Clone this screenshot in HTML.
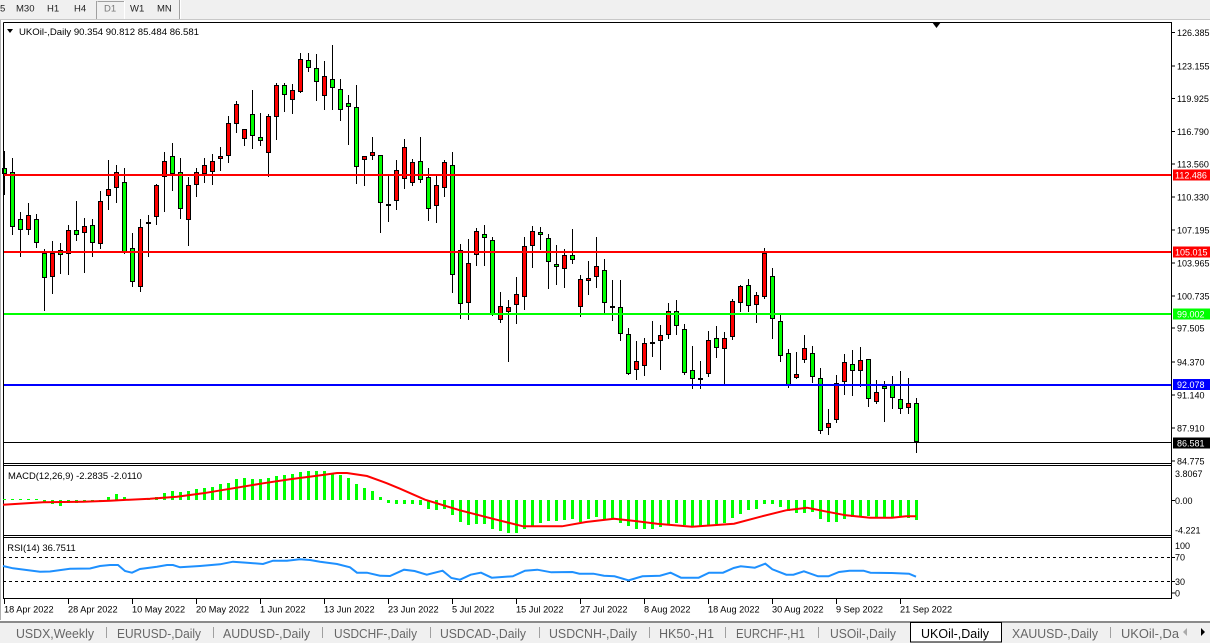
<!DOCTYPE html>
<html><head><meta charset="utf-8"><style>
html,body{margin:0;padding:0;background:#fff;width:1210px;height:643px;overflow:hidden}
svg{display:block;font-family:"Liberation Sans",Arial,sans-serif}
</style></head><body>
<svg width="1210" height="643" viewBox="0 0 1210 643" xmlns="http://www.w3.org/2000/svg">
<rect x="0" y="0" width="1210" height="643" fill="#fff"/>
<!-- toolbar -->
<rect x="0" y="0" width="1210" height="19" fill="#f0f0f0"/>
<line x1="0" y1="19.5" x2="1210" y2="19.5" stroke="#c8c8c8"/>
<line x1="96.5" y1="1" x2="96.5" y2="19" stroke="#a0a0a0"/>
<line x1="97.5" y1="1.5" x2="124" y2="1.5" stroke="#a0a0a0"/>
<line x1="124.5" y1="1" x2="124.5" y2="19" stroke="#ffffff"/>
<line x1="179.5" y1="0" x2="179.5" y2="19" stroke="#a0a0a0"/>
<line x1="180.5" y1="0" x2="180.5" y2="19" stroke="#ffffff"/>
<g font-size="9.5" fill="#222">
<text x="0" y="11.5">5</text>
<text x="16" y="11.5">M30</text>
<text x="47" y="11.5">H1</text>
<text x="74" y="11.5">H4</text>
<text x="104" y="11.5" fill="#777">D1</text>
<text x="130" y="11.5">W1</text>
<text x="157" y="11.5">MN</text>
</g>
<line x1="0.5" y1="20" x2="0.5" y2="620" stroke="#b0b0b0"/>

<!-- candles wicks -->
<path fill="none" stroke="#000" stroke-width="1" d="M4.5 151V195M12.5 158V235M20.5 212V257M28.5 203V235M36.5 214V248M44.5 249V311M52.5 241V294M60.5 243V274M68.5 225V275M76.5 201V241M84.5 218V273M92.5 219V257M100.5 191V249M108.5 160V210M116.5 165V203M124.5 168V254M132.5 233V287M140.5 219V292M148.5 215V257M156.5 184V225M164.5 152V212M172.5 143V191M180.5 158V219M188.5 177V246M196.5 168V197M204.5 158V183M212.5 154V185M220.5 147V171M228.5 116V163M236.5 101V133M244.5 129V146M252.5 90V149M260.5 113V146M268.5 114V177M276.5 83V140M284.5 83V112M292.5 84V114M300.5 53V93M308.5 53V72M316.5 54V101M324.5 61V110M332.5 45V110M340.5 79V121M348.5 95V145M356.5 85V184M364.5 156V186M372.5 137V160M380.5 155V233M388.5 176V222M396.5 160V210M404.5 139V189M412.5 159V186M420.5 137V183M428.5 168V221M436.5 175V223M444.5 160V197M452.5 152V293M460.5 244V319M468.5 239V320M476.5 228V266M484.5 225V266M492.5 237V316M500.5 292V323M508.5 300V362M516.5 277V324M524.5 237V310M532.5 226V268M540.5 227V250M548.5 234V289M556.5 245V285M564.5 249V288M572.5 229V264M580.5 275V317M588.5 261V295M596.5 237V288M604.5 259V313M612.5 280V321M620.5 280V341M628.5 328V375M636.5 341V380M644.5 338V376M652.5 321V357M660.5 325V370M668.5 303V339M676.5 300V335M684.5 324V375M692.5 346V389M700.5 361V389M708.5 331V377M716.5 326V358M724.5 332V384M732.5 299V340M740.5 285V312M748.5 279V312M756.5 292V323M764.5 248V299M772.5 268V339M780.5 315V362M788.5 349V388M796.5 352V379M804.5 335V363M812.5 346V383M820.5 368V434M828.5 409V435M836.5 375V423M844.5 354V395M852.5 350V396M860.5 347V387M868.5 359V407M876.5 380V404M884.5 381V422M892.5 376V409M900.5 371V414M908.5 378V414M916.5 398V453"/>
<!-- green bodies -->
<g fill="#00ff00" stroke="#000" stroke-width="1">
<rect x="2.5" y="168.5" width="4" height="5"/>
<rect x="10.5" y="172.5" width="4" height="54"/>
<rect x="18.5" y="219.5" width="4" height="10"/>
<rect x="34.5" y="219.5" width="4" height="23"/>
<rect x="42.5" y="253.5" width="4" height="24"/>
<rect x="58.5" y="250.5" width="4" height="4"/>
<rect x="74.5" y="230.5" width="4" height="4"/>
<rect x="90.5" y="225.5" width="4" height="17"/>
<rect x="122.5" y="182.5" width="4" height="69"/>
<rect x="130.5" y="248.5" width="4" height="33"/>
<rect x="170.5" y="156.5" width="4" height="17"/>
<rect x="178.5" y="172.5" width="4" height="36"/>
<rect x="250.5" y="114.5" width="4" height="21"/>
<rect x="258.5" y="137.5" width="4" height="3"/>
<rect x="282.5" y="85.5" width="4" height="9"/>
<rect x="306.5" y="60.5" width="4" height="7"/>
<rect x="314.5" y="68.5" width="4" height="13"/>
<rect x="330.5" y="79.5" width="4" height="8"/>
<rect x="338.5" y="89.5" width="4" height="20"/>
<rect x="346.5" y="103.5" width="4" height="3"/>
<rect x="354.5" y="107.5" width="4" height="59"/>
<rect x="378.5" y="155.5" width="4" height="47"/>
<rect x="418.5" y="161.5" width="4" height="18"/>
<rect x="426.5" y="177.5" width="4" height="31"/>
<rect x="450.5" y="165.5" width="4" height="109"/>
<rect x="458.5" y="250.5" width="4" height="53"/>
<rect x="482.5" y="234.5" width="4" height="3"/>
<rect x="490.5" y="240.5" width="4" height="73"/>
<rect x="538.5" y="232.5" width="4" height="2"/>
<rect x="546.5" y="238.5" width="4" height="23"/>
<rect x="554.5" y="264.5" width="4" height="2"/>
<rect x="570.5" y="255.5" width="4" height="4"/>
<rect x="602.5" y="270.5" width="4" height="32"/>
<rect x="610.5" y="306.5" width="4" height="1"/>
<rect x="618.5" y="307.5" width="4" height="26"/>
<rect x="626.5" y="334.5" width="4" height="39"/>
<rect x="650.5" y="342.5" width="4" height="1"/>
<rect x="674.5" y="311.5" width="4" height="14"/>
<rect x="682.5" y="329.5" width="4" height="43"/>
<rect x="690.5" y="370.5" width="4" height="8"/>
<rect x="714.5" y="338.5" width="4" height="9"/>
<rect x="746.5" y="285.5" width="4" height="20"/>
<rect x="770.5" y="276.5" width="4" height="42"/>
<rect x="778.5" y="321.5" width="4" height="34"/>
<rect x="786.5" y="353.5" width="4" height="31"/>
<rect x="810.5" y="353.5" width="4" height="23"/>
<rect x="818.5" y="378.5" width="4" height="52"/>
<rect x="850.5" y="364.5" width="4" height="6"/>
<rect x="866.5" y="359.5" width="4" height="39"/>
<rect x="882.5" y="386.5" width="4" height="2"/>
<rect x="890.5" y="385.5" width="4" height="12"/>
<rect x="898.5" y="399.5" width="4" height="9"/>
<rect x="914.5" y="403.5" width="4" height="38"/>
</g>
<!-- red bodies -->
<g fill="#ff0000" stroke="#000" stroke-width="1">
<rect x="26.5" y="215.5" width="4" height="14"/>
<rect x="50.5" y="253.5" width="4" height="23"/>
<rect x="66.5" y="230.5" width="4" height="23"/>
<rect x="82.5" y="226.5" width="4" height="6"/>
<rect x="98.5" y="201.5" width="4" height="42"/>
<rect x="106.5" y="189.5" width="4" height="6"/>
<rect x="114.5" y="172.5" width="4" height="15"/>
<rect x="138.5" y="227.5" width="4" height="59"/>
<rect x="146.5" y="222.5" width="4" height="1"/>
<rect x="154.5" y="185.5" width="4" height="31"/>
<rect x="162.5" y="161.5" width="4" height="15"/>
<rect x="186.5" y="185.5" width="4" height="34"/>
<rect x="194.5" y="172.5" width="4" height="12"/>
<rect x="202.5" y="165.5" width="4" height="8"/>
<rect x="210.5" y="161.5" width="4" height="10"/>
<rect x="218.5" y="156.5" width="4" height="2"/>
<rect x="226.5" y="123.5" width="4" height="32"/>
<rect x="234.5" y="104.5" width="4" height="19"/>
<rect x="242.5" y="129.5" width="4" height="9"/>
<rect x="266.5" y="116.5" width="4" height="36"/>
<rect x="274.5" y="85.5" width="4" height="31"/>
<rect x="290.5" y="90.5" width="4" height="9"/>
<rect x="298.5" y="59.5" width="4" height="32"/>
<rect x="322.5" y="76.5" width="4" height="19"/>
<rect x="362.5" y="156.5" width="4" height="3"/>
<rect x="370.5" y="152.5" width="4" height="3"/>
<rect x="386.5" y="204.5" width="4" height="1"/>
<rect x="394.5" y="170.5" width="4" height="30"/>
<rect x="402.5" y="147.5" width="4" height="31"/>
<rect x="410.5" y="162.5" width="4" height="20"/>
<rect x="434.5" y="185.5" width="4" height="20"/>
<rect x="442.5" y="162.5" width="4" height="25"/>
<rect x="466.5" y="263.5" width="4" height="39"/>
<rect x="474.5" y="231.5" width="4" height="23"/>
<rect x="498.5" y="306.5" width="4" height="13"/>
<rect x="506.5" y="307.5" width="4" height="4"/>
<rect x="514.5" y="294.5" width="4" height="10"/>
<rect x="522.5" y="246.5" width="4" height="50"/>
<rect x="530.5" y="231.5" width="4" height="14"/>
<rect x="562.5" y="255.5" width="4" height="13"/>
<rect x="578.5" y="279.5" width="4" height="27"/>
<rect x="586.5" y="278.5" width="4" height="2"/>
<rect x="594.5" y="266.5" width="4" height="10"/>
<rect x="634.5" y="361.5" width="4" height="8"/>
<rect x="642.5" y="343.5" width="4" height="22"/>
<rect x="658.5" y="335.5" width="4" height="5"/>
<rect x="666.5" y="311.5" width="4" height="23"/>
<rect x="698.5" y="378.5" width="4" height="1"/>
<rect x="706.5" y="340.5" width="4" height="33"/>
<rect x="722.5" y="338.5" width="4" height="10"/>
<rect x="730.5" y="301.5" width="4" height="35"/>
<rect x="738.5" y="286.5" width="4" height="16"/>
<rect x="754.5" y="295.5" width="4" height="9"/>
<rect x="762.5" y="253.5" width="4" height="43"/>
<rect x="794.5" y="374.5" width="4" height="3"/>
<rect x="802.5" y="348.5" width="4" height="11"/>
<rect x="826.5" y="423.5" width="4" height="4"/>
<rect x="834.5" y="383.5" width="4" height="36"/>
<rect x="842.5" y="362.5" width="4" height="19"/>
<rect x="858.5" y="360.5" width="4" height="10"/>
<rect x="874.5" y="392.5" width="4" height="9"/>
<rect x="906.5" y="403.5" width="4" height="4"/>
</g>

<!-- horizontal levels -->
<rect x="3" y="174" width="1168" height="2" fill="#ff0000"/>
<rect x="3" y="251" width="1168" height="2" fill="#ff0000"/>
<rect x="3" y="313" width="1168" height="2" fill="#00ff00"/>
<rect x="3" y="384" width="1168" height="2" fill="#0000ff"/>
<rect x="3" y="442" width="1168" height="1" fill="#000"/>

<!-- frames -->
<g stroke="#000" stroke-width="1" fill="none">
<path d="M3.5 22.5H1171.5V599"/>
<path d="M3.5 22.5V599"/>
<path d="M3 463.5H1172M3 465.5H1172M3 535.5H1172M3 537.5H1172M3 598.5H1172"/>
</g>
<polygon points="932,22 941,22 936.5,28" fill="#000"/>

<!-- title -->
<polygon points="7,29 13,29 10,33" fill="#000"/>
<text x="19" y="35" font-size="9.5" fill="#000" textLength="180" lengthAdjust="spacingAndGlyphs">UKOil-,Daily  90.354 90.812 85.484 86.581</text>

<!-- price axis -->
<g stroke="#000"><path d="M1171 32.5H1175M1171 66H1175M1171 98.5H1175M1171 131.5H1175M1171 164H1175M1171 197H1175M1171 230H1175M1171 263H1175M1171 296H1175M1171 328H1175M1171 362H1175M1171 395H1175M1171 428H1175M1171 461H1175M1171 500.5H1175M1171 557.5H1175M1171 581.5H1175M1171 593H1175"/></g>
<g font-size="9" fill="#000">
<text x="1177" y="36">126.385</text>
<text x="1177" y="69.3">123.155</text>
<text x="1177" y="101.8">119.925</text>
<text x="1177" y="134.8">116.790</text>
<text x="1177" y="167.3">113.560</text>
<text x="1177" y="200.3">110.330</text>
<text x="1177" y="233.3">107.195</text>
<text x="1177" y="266.3">103.965</text>
<text x="1177" y="299.3">100.735</text>
<text x="1177" y="331.3">97.505</text>
<text x="1177" y="365.3">94.370</text>
<text x="1177" y="398.3">91.140</text>
<text x="1177" y="431.3">87.910</text>
<text x="1177" y="464.3">84.775</text>
<text x="1175" y="477">3.8067</text>
<text x="1175" y="504">0.00</text>
<text x="1175" y="533.3">-4.221</text>
<text x="1175" y="549">100</text>
<text x="1175" y="560.6">70</text>
<text x="1175" y="585">30</text>
<text x="1175" y="596.3">0</text>
</g>
<rect x="1173" y="169.5" width="37" height="11" fill="#ff0000"/>
<rect x="1173" y="246.5" width="37" height="11" fill="#ff0000"/>
<rect x="1173" y="308.5" width="37" height="11" fill="#00ff00"/>
<rect x="1173" y="379" width="37" height="11" fill="#0000ff"/>
<rect x="1173" y="437.5" width="37" height="11" fill="#000"/>
<g font-size="9" fill="#fff">
<text x="1175" y="178.3">112.486</text>
<text x="1175" y="255.3">105.015</text>
<text x="1177" y="317.3">99.002</text>
<text x="1177" y="387.8">92.078</text>
<text x="1177" y="446.3">86.581</text>
</g>

<!-- MACD -->
<path fill="none" stroke="#00ff00" stroke-width="3" d="M4.5 499V500M12.5 499V500M20.5 499V500M28.5 499V500M36.5 499V500M44.5 500V503M52.5 500V504M60.5 500V506M68.5 500V503M76.5 500V503M84.5 500V501M92.5 500V501M100.5 500V501M108.5 497V500M116.5 494V500M124.5 497V500M132.5 499V500M140.5 499V500M148.5 499V500M156.5 497V500M164.5 493V500M172.5 491V500M180.5 492V500M188.5 491V500M196.5 489V500M204.5 488V500M212.5 487V500M220.5 484V500M228.5 483V500M236.5 479V500M244.5 478V500M252.5 479V500M260.5 479V500M268.5 478V500M276.5 476V500M284.5 475V500M292.5 474V500M300.5 472V500M308.5 471V500M316.5 471V500M324.5 471V500M332.5 473V500M340.5 475V500M348.5 478V500M356.5 484V500M364.5 488V500M372.5 491V500M380.5 497V500M388.5 500V503M396.5 500V504M404.5 500V504M412.5 500V504M420.5 500V505M428.5 500V509M436.5 500V510M444.5 500V509M452.5 500V515M460.5 500V522M468.5 500V525M476.5 500V524M484.5 500V524M492.5 500V529M500.5 500V531M508.5 500V533M516.5 500V533M524.5 500V529M532.5 500V526M540.5 500V523M548.5 500V521M556.5 500V521M564.5 500V520M572.5 500V519M580.5 500V522M588.5 500V519M596.5 500V517M604.5 500V519M612.5 500V519M620.5 500V523M628.5 500V526M636.5 500V529M644.5 500V529M652.5 500V529M660.5 500V527M668.5 500V524M676.5 500V523M684.5 500V525M692.5 500V527M700.5 500V527M708.5 500V525M716.5 500V524M724.5 500V523M732.5 500V518M740.5 500V514M748.5 500V510M756.5 500V509M764.5 500V504M772.5 500V504M780.5 500V507M788.5 500V511M796.5 500V513M804.5 500V513M812.5 500V512M820.5 500V519M828.5 500V522M836.5 500V522M844.5 500V519M852.5 500V517M860.5 500V516M868.5 500V516M876.5 500V517M884.5 500V517M892.5 500V517M900.5 500V517M908.5 500V518M916.5 500V520"/>
<polyline fill="none" stroke="#ff0000" stroke-width="2" points="3,504.7 43,502.3 83,501.7 110,500.7 150,498.7 177,496.7 203,493.3 233,488.3 263,483.3 290,479.3 317,475.7 337,473 347,473 367,476 387,483.3 400,488.7 425,499.7 460,510.3 495,519.3 523,526.3 562,526.3 586,522 614,518.7 635,521 657,523.7 692,526.7 713,525.3 734,523.7 762,516.3 786,510.3 807,507.7 825,511.3 846,515.3 870,517.7 892,517.7 906,516.3 916,516.3"/>
<text x="8" y="479" font-size="9.3" fill="#000" textLength="134" lengthAdjust="spacingAndGlyphs">MACD(12,26,9) -2.2835 -2.0110</text>

<!-- RSI -->
<line x1="3" y1="557.5" x2="1171" y2="557.5" stroke="#000" stroke-dasharray="3,3"/>
<line x1="3" y1="581.5" x2="1171" y2="581.5" stroke="#000" stroke-dasharray="3,3"/>
<polyline fill="none" stroke="#1e90ff" stroke-width="2" points="3,566 13,568.3 40,571.7 50,571.5 70,568.7 90,568.5 100,566 110,565 118,565 125,571 132,572.7 140,569 157,566.7 167,565 173,565 180,567.3 200,566 220,564.3 233,561.7 247,562.7 263,564 273,560.7 287,560.7 300,559.3 310,560 320,561.7 337,564 350,567.3 357,572.7 367,572.7 380,575.7 390,576 404,569.7 414.6,571 426.8,574.7 442.6,570.7 451.4,578 460,579.7 470.7,574.7 481,572.7 491.7,577.7 512.8,576.3 525,570.7 537.3,569.7 551.3,572.3 572.4,572 579.4,573.7 593.4,573.7 604,575.7 614.5,576.3 628.5,580.3 642.5,576.3 660,575.7 670.6,572.7 681,577.7 698.7,577.7 709,572.7 723,572.7 733.7,568 740.7,566.3 754.8,567.7 765.3,563.7 772.3,569.3 786.3,574.7 793.4,574.7 803.9,571.3 818,576.3 828.5,576.3 839,572 849.5,570.7 863.5,570.7 870.5,572.7 891.6,573 909,573.7 916,576.7"/>
<text x="7.3" y="551" font-size="9.3" fill="#000" textLength="68.4" lengthAdjust="spacingAndGlyphs">RSI(14) 36.7511</text>

<!-- date axis -->
<path stroke="#000" d="M4.5 599V604M68.5 599V604M132.5 599V604M196.5 599V604M260.5 599V604M324.5 599V604M388.5 599V604M452.5 599V604M516.5 599V604M580.5 599V604M644.5 599V604M708.5 599V604M772.5 599V604M836.5 599V604M900.5 599V604"/>
<g font-size="9.2" fill="#000">
<text x="4" y="612.5">18 Apr 2022</text>
<text x="68" y="612.5">28 Apr 2022</text>
<text x="132" y="612.5">10 May 2022</text>
<text x="196" y="612.5">20 May 2022</text>
<text x="260" y="612.5">1 Jun 2022</text>
<text x="324" y="612.5">13 Jun 2022</text>
<text x="388" y="612.5">23 Jun 2022</text>
<text x="452" y="612.5">5 Jul 2022</text>
<text x="516" y="612.5">15 Jul 2022</text>
<text x="580" y="612.5">27 Jul 2022</text>
<text x="644" y="612.5">8 Aug 2022</text>
<text x="708" y="612.5">18 Aug 2022</text>
<text x="772" y="612.5">30 Aug 2022</text>
<text x="836" y="612.5">9 Sep 2022</text>
<text x="900" y="612.5">21 Sep 2022</text>
</g>

<!-- tab bar -->
<rect x="0" y="621" width="1210" height="22" fill="#f0f0f0"/>
<rect x="0" y="621" width="1210" height="2" fill="#8a8a8a"/>
<rect x="910.5" y="622.5" width="91" height="19.5" fill="#fff" stroke="#000"/>
<g stroke="#a0a0a0"><path d="M106.5 627V638M213.5 627V638M322.5 627V638M430.5 627V638M539.5 627V638M649.5 627V638M725.5 627V638M818.5 627V638M1110.5 627V638"/></g>
<g font-size="12.5" fill="#666">
<text x="16" y="638" textLength="78" lengthAdjust="spacingAndGlyphs">USDX,Weekly</text>
<text x="117" y="638" textLength="84" lengthAdjust="spacingAndGlyphs">EURUSD-,Daily</text>
<text x="223" y="638" textLength="87" lengthAdjust="spacingAndGlyphs">AUDUSD-,Daily</text>
<text x="334" y="638" textLength="83" lengthAdjust="spacingAndGlyphs">USDCHF-,Daily</text>
<text x="440" y="638" textLength="86" lengthAdjust="spacingAndGlyphs">USDCAD-,Daily</text>
<text x="549" y="638" textLength="88" lengthAdjust="spacingAndGlyphs">USDCNH-,Daily</text>
<text x="659" y="638" textLength="55" lengthAdjust="spacingAndGlyphs">HK50-,H1</text>
<text x="736" y="638" textLength="69" lengthAdjust="spacingAndGlyphs">EURCHF-,H1</text>
<text x="830" y="638" textLength="66" lengthAdjust="spacingAndGlyphs">USOil-,Daily</text>
<text x="921" y="638" textLength="68" lengthAdjust="spacingAndGlyphs" fill="#000">UKOil-,Daily</text>
<text x="1012" y="638" textLength="86" lengthAdjust="spacingAndGlyphs">XAUUSD-,Daily</text>
<text x="1121" y="638" textLength="58" lengthAdjust="spacingAndGlyphs">UKOil-,Da</text>
</g>
<polygon points="1187,628 1187,636 1183,632" fill="#aaa"/>
<polygon points="1201,628 1201,636 1205,632" fill="#000"/>
</svg>
</body></html>
